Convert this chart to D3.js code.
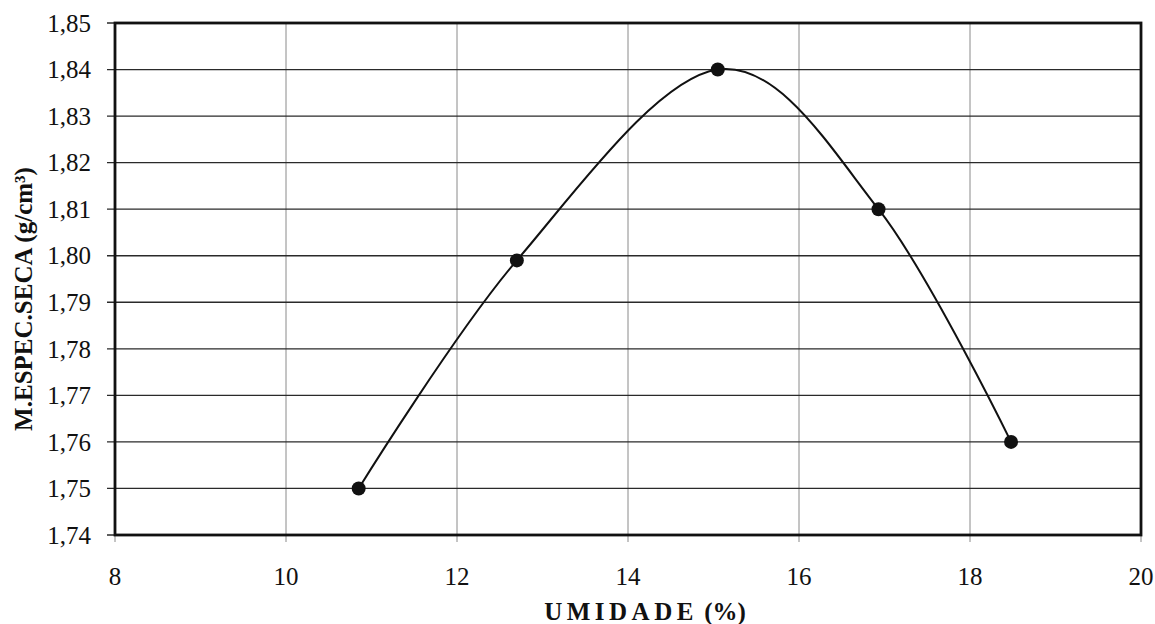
<!doctype html>
<html lang="pt">
<head>
    <meta charset="UTF-8">
    <title>Compactação</title>
    <script src="https://cdn.jsdelivr.net/npm/d3@7"></script>
    <style>
        body{ margin:0; background:#fff; }
        .grid-h line{ stroke:#2a2a2a; stroke-width:1.3px; }
        .grid-v line{ stroke:#8a8a8a; stroke-width:1px; }
        .frame{ fill:none; stroke:#111; stroke-width:2.8px; }
        .curve{ fill:none; stroke:#111; stroke-width:2px; }
    </style>
</head>
<body>
<svg width="1155" height="624"></svg>
<script>
    // data
    const umidade = [10.85, 12.7, 15.05, 16.93, 18.48];
    const massaSeca = [1.750, 1.799, 1.840, 1.810, 1.760];
    const xTicks = [8, 10, 12, 14, 16, 18, 20];
    const yTicks = [1.74, 1.75, 1.76, 1.77, 1.78, 1.79, 1.80, 1.81, 1.82, 1.83, 1.84, 1.85];

    const plotL = 115, plotR = 1141, plotT = 23, plotB = 535;
    const serif = '"Liberation Serif", "DejaVu Serif", serif';
    const svg = d3.select("svg");

    const x = d3.scaleLinear().domain([8, 20]).range([plotL, plotR]);
    const y = d3.scaleLinear().domain([1.74, 1.85]).range([plotB, plotT]);
    const fmt = v => d3.format(".2f")(v).replace(".", ",");

    // vertical grid (lighter)
    svg.append("g").attr("class", "grid-v")
        .selectAll("line").data(xTicks).enter().append("line")
        .attr("x1", d => x(d)).attr("x2", d => x(d))
        .attr("y1", plotT).attr("y2", plotB + 7);

    // horizontal grid (darker), extending as ticks to the left
    svg.append("g").attr("class", "grid-h")
        .selectAll("line").data(yTicks).enter().append("line")
        .attr("x1", plotL - 8).attr("x2", plotR)
        .attr("y1", d => y(d)).attr("y2", d => y(d));

    svg.append("rect").attr("class", "frame")
        .attr("x", plotL).attr("y", plotT)
        .attr("width", plotR - plotL).attr("height", plotB - plotT);

    // y tick labels
    svg.append("g").selectAll("text").data(yTicks).enter().append("text")
        .attr("x", 91).attr("y", d => y(d)).attr("dy", "0.35em")
        .attr("text-anchor", "end")
        .style("font-family", serif).style("font-size", "25px").attr("fill", "#111")
        .text(fmt);

    // x tick labels
    svg.append("g").selectAll("text").data(xTicks).enter().append("text")
        .attr("x", d => x(d)).attr("y", 585)
        .attr("text-anchor", "middle")
        .style("font-family", serif).style("font-size", "25px").attr("fill", "#111")
        .text(d => d);

    // axis titles
    const xt = svg.append("text")
        .attr("x", 645).attr("y", 620)
        .attr("text-anchor", "middle")
        .style("font-family", serif)
        .style("font-weight", "bold").style("font-size", "25px")
        .attr("fill", "#111");
    xt.append("tspan").style("letter-spacing", "4.5px").text("UMIDADE");
    xt.append("tspan").text(" (%)");

    svg.append("text")
        .attr("transform", "translate(32,299) rotate(-90)")
        .attr("text-anchor", "middle")
        .style("font-family", serif)
        .style("font-weight", "bold").style("font-size", "25px")
        .attr("fill", "#111")
        .text("M.ESPEC.SECA (g/cm³)");

    // smoothed curve + markers
    const pts = umidade.map((u, i) => [u, massaSeca[i]]);
    const line = d3.line()
        .x(d => x(d[0])).y(d => y(d[1]))
        .curve(d3.curveCardinal.tension(0));
    svg.append("path").attr("class", "curve").attr("d", line(pts));

    svg.append("g").selectAll("circle").data(pts).enter().append("circle")
        .attr("cx", d => x(d[0])).attr("cy", d => y(d[1]))
        .attr("r", 7).attr("fill", "#111");
</script>
</body>
</html>
